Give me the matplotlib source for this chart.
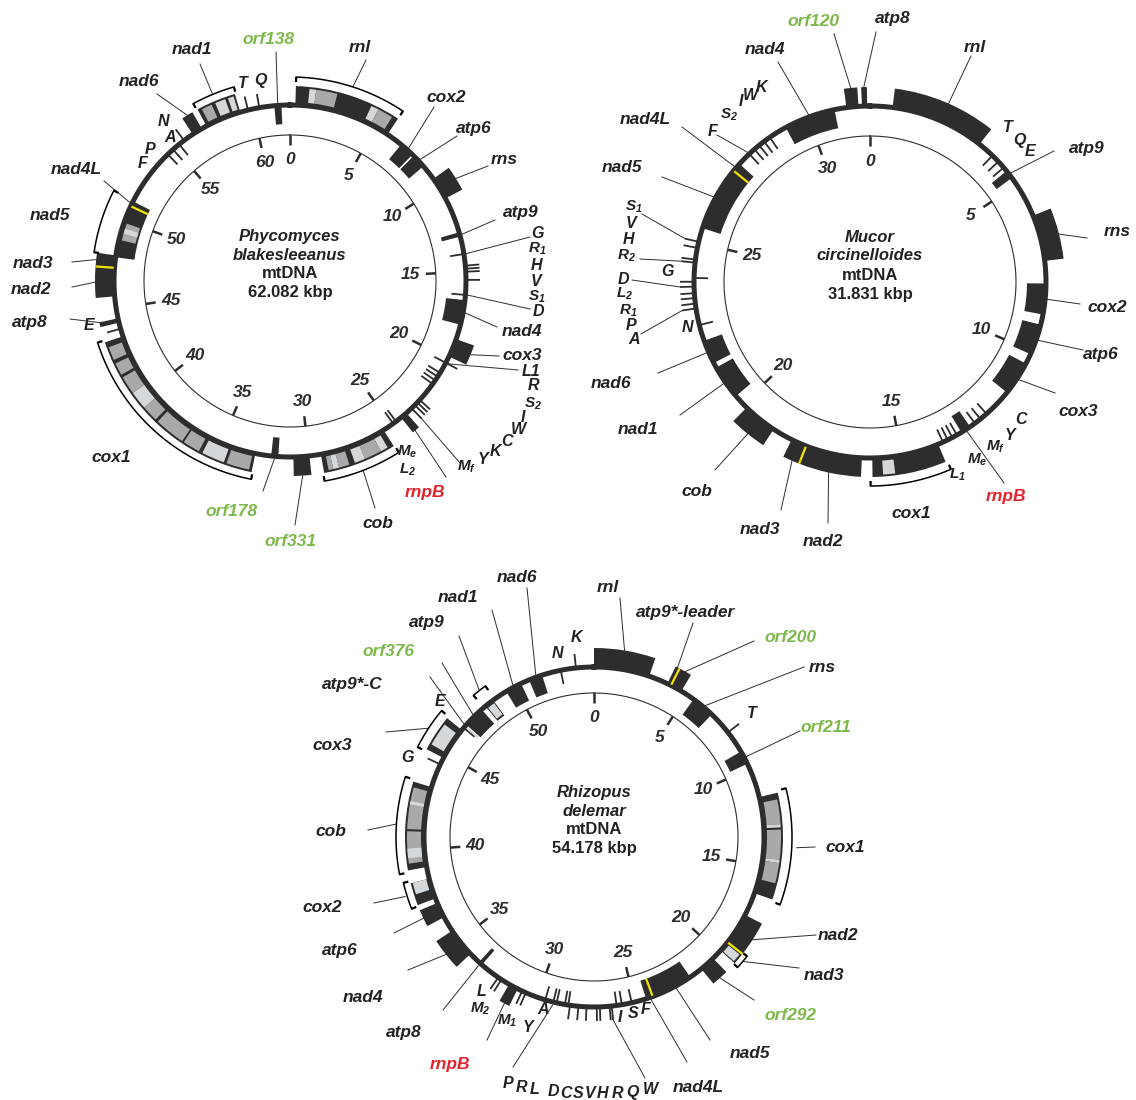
import numpy as np
import matplotlib.pyplot as plt
from matplotlib.patches import Wedge

plt.rcParams['font.family'] = ['Liberation Sans', 'DejaVu Sans']
plt.rcParams['mathtext.fontset'] = 'custom'
plt.rcParams['mathtext.it'] = 'Liberation Sans:italic:bold'
plt.rcParams['mathtext.rm'] = 'Liberation Sans:italic:bold'
plt.rcParams['mathtext.bf'] = 'Liberation Sans:italic:bold'

DARK = '#2d2d2d'
GRAY = '#a7a9ab'
LIGHT = '#d4d8da'
YELLOW = '#f0e400'
GREEN = '#7cb84a'
RED = '#e3232b'
SHADE = {'G': GRAY, 'L': LIGHT}

# ---------------- Phycomyces blakesleeanus ----------------
phy_len = 62.082
phy_genes = [  # name, start, end, side (+1 outside ring, -1 inside)
    ('rnl', 0.3, 5.8, 1), ('cox2', 6.75, 7.6, -1), ('atp6', 7.7, 8.5, -1),
    ('rns', 9.4, 10.7, 1), ('atp9', 12.75, 13.0, -1), ('nad4', 16.6, 18.0, -1),
    ('cox3', 18.85, 19.9, 1), ('rnpB', 23.9, 24.3, 1), ('cob', 25.5, 29.3, 1),
    ('orf331', 29.95, 30.85, 1), ('orf178', 31.7, 32.1, -1), ('cox1', 33.0, 43.4, 1),
    ('atp8', 44.2, 44.45, 1), ('nad2', 45.7, 47.3, 1), ('nad3', 47.3, 48.0, 1),
    ('nad5', 47.9, 50.9, -1), ('nad4L', 50.9, 51.2, -1), ('nad6', 56.3, 56.9, 1),
    ('nad1', 57.2, 59.25, 1), ('orf138', 61.2, 61.6, -1),
]
phy_introns = [  # start, end, shade, side
    (1.0, 1.35, 'L', 1), (1.35, 2.45, 'G', 1), (4.3, 4.7, 'L', 1), (4.7, 5.5, 'G', 1),
    (57.4, 57.95, 'G', 1), (58.15, 58.7, 'L', 1), (58.85, 59.15, 'L', 1),
    (48.9, 49.9, 'G', -1), (49.3, 49.6, 'L', -1),
    (25.8, 26.2, 'L', 1), (26.2, 27.1, 'G', 1), (27.1, 27.65, 'L', 1),
    (27.95, 28.5, 'G', 1), (28.5, 28.8, 'L', 1), (28.8, 29.05, 'G', 1),
    (33.15, 34.35, 'G', 1), (34.5, 35.7, 'L', 1), (35.9, 36.8, 'G', 1),
    (36.9, 38.5, 'G', 1), (38.65, 39.5, 'G', 1), (39.5, 40.45, 'L', 1),
    (40.45, 41.4, 'G', 1), (41.55, 42.2, 'G', 1), (42.4, 43.1, 'G', 1),
]
phy_trnas = [
    ('G', 14.0, -1), ('R1', 14.66, 1), ('H', 14.83, 1), ('V', 15.0, 1), ('S1', 15.46, 1),
    ('D', 16.3, -1), ('L1', 20.3, 0), ('R', 20.95, -1), ('S2', 21.2, -1), ('I', 21.45, -1),
    ('W', 21.7, -1), ('C', 22.85, 1), ('K', 23.05, 1), ('Y', 23.25, 1), ('Mf', 23.5, 1),
    ('Me', 24.65, -1), ('L2', 24.85, -1), ('E', 43.85, 1), ('F', 54.5, -1), ('P', 54.9, -1),
    ('A', 55.35, -1), ('N', 55.7, 1), ('T', 59.7, 1), ('Q', 60.35, 1),
]
phy_yellow = [(47.3, 1), (50.9, -1)]
phy_brackets = [(0.3, 5.8, 28), (57.15, 59.3, 26), (48.0, 51.25, 22),
                (32.95, 43.5, 26), (25.45, 29.35, 27)]
phy_labels = [
    ('nad1', 192, 50), ('orf138', 268, 40, GREEN), ('rnl', 360, 48), ('nad6', 139, 82),
    ('T', 243, 83), ('Q', 260, 80), ('N', 163, 122), ('A', 170, 137), ('P', 150, 150),
    ('F', 143, 164), ('nad4L', 76, 170), ('nad5', 50, 216), ('nad3', 33, 263),
    ('nad2', 31, 289), ('atp8', 30, 323), ('E', 89, 326), ('cox1', 111, 457),
    ('orf178', 231, 512, GREEN), ('orf331', 290, 541, GREEN), ('cob', 378, 524),
    ('rnpB', 425, 493, RED), ('$L_2$', 408, 470), ('$M_e$', 407, 452), ('$M_f$', 467, 467),
    ('Y', 483, 460), ('K', 495, 452), ('C', 507, 442), ('W', 518, 430), ('I', 523, 417),
    ('$S_2$', 533, 404), ('R', 533, 386), ('L1', 531, 371), ('cox3', 522, 355),
    ('nad4', 522, 332), ('D', 538, 312), ('$S_1$', 537, 297), ('V', 536, 281),
    ('H', 536, 265), ('$R_1$', 537, 249), ('G', 537, 233), ('atp9', 521, 213),
    ('rns', 504, 160), ('atp6', 474, 128), ('cox2', 446, 97),
]
phy_leaders = [  # kbp, radial offset from ring, label-side end x, y
    (58.2, 27, 200, 64), (61.4, 3, 276, 52), (3.1, 29, 366, 60), (56.6, 19, 157, 94),
    (51.05, 1, 104, 181), (47.65, 19, 72, 262), (46.5, 19, 72, 287), (44.33, 13, 70, 319),
    (31.9, 2, 263, 491), (30.4, 19, 295, 525), (27.4, 27, 375, 508), (24.1, 10, 446, 477),
    (23.5, 13, 460, 463), (19.35, 19, 499, 356), (20.3, 2, 518, 370), (17.3, 2, 497, 327),
    (16.3, 2, 530, 309), (14.0, 2, 530, 237), (12.9, 2, 495, 220), (10.05, 19, 488, 166),
    (8.1, 2, 457, 136), (7.2, 2, 434, 107),
]
phy_title = ['Phycomyces', 'blakesleeanus', 'mtDNA', '62.082 kbp']

# ---------------- Mucor circinelloides ----------------
muc_len = 31.831
muc_genes = [
    ('rnl', 0.65, 3.4, 1), ('atp9', 4.5, 4.75, -1), ('rns', 6.0, 7.35, 1),
    ('cox2', 8.0, 8.9, -1), ('atp6', 9.2, 10.1, -1), ('cox3', 10.4, 11.4, -1),
    ('rnpB', 12.85, 13.15, -1), ('cox1', 13.9, 15.85, 1), ('nad2', 16.15, 17.8, 1),
    ('nad3', 17.8, 18.25, 1), ('cob', 18.85, 19.85, 1), ('nad1', 20.3, 21.3, -1),
    ('nad6', 21.45, 22.15, -1), ('nad5', 25.45, 27.34, -1), ('nad4L', 27.34, 27.6, -1),
    ('nad4', 29.3, 30.8, -1), ('orf120', 31.15, 31.5, 1), ('atp8', 31.6, 31.75, 1),
]
muc_introns = [(15.25, 15.57, 'L', 1)]
muc_trnas = [
    ('T', 3.9, -1), ('Q', 4.14, -1), ('E', 4.37, -1), ('C', 12.25, -1), ('Y', 12.48, -1),
    ('Mf', 12.68, -1), ('Me', 13.3, -1), ('Me', 13.45, -1), ('L1', 13.6, -1), ('L1', 13.75, -1),
    ('N', 22.62, -1), ('A', 23.11, 1), ('P', 23.25, 1), ('R1', 23.41, 1), ('L2', 23.55, 1),
    ('D', 23.74, 1), ('D', 23.88, 1), ('G', 23.99, -1), ('R2', 24.43, 1), ('H', 24.52, 1),
    ('V', 24.86, 1), ('S1', 25.04, 1), ('F', 28.0, -1), ('S2', 28.2, -1), ('I', 28.38, -1),
    ('W', 28.56, -1), ('K', 28.76, -1),
]
muc_yellow = [(17.8, 1), (27.34, -1)]
muc_brackets = [(13.85, 15.9, 28)]
muc_labels = [
    ('orf120', 813, 22, GREEN), ('atp8', 893, 18), ('nad4', 765, 50), ('rnl', 975, 48),
    ('K', 761, 87), ('W', 750, 95), ('I', 741, 101), ('$S_2$', 729, 115), ('F', 713, 131),
    ('nad4L', 645, 120), ('nad5', 622, 167), ('T', 1008, 128), ('Q', 1019, 140),
    ('E', 1030, 152), ('atp9', 1087, 148), ('rns', 1117, 231), ('$S_1$', 634, 207),
    ('V', 631, 224), ('H', 628, 240), ('$R_2$', 626, 256), ('G', 667, 272), ('D', 623, 279),
    ('$L_2$', 625, 294), ('$R_1$', 628, 311), ('P', 631, 326), ('A', 634, 339),
    ('N', 687, 328), ('nad6', 611, 383), ('nad1', 638, 430), ('cob', 697, 492),
    ('nad3', 760, 530), ('nad2', 823, 542), ('cox1', 911, 513), ('$L_1$', 957, 475),
    ('$M_e$', 977, 460), ('$M_f$', 996, 447), ('Y', 1010, 435), ('C', 1021, 420),
    ('rnpB', 1006, 496, RED), ('cox3', 1078, 412), ('atp6', 1101, 355), ('cox2', 1107, 308),
]
muc_leaders = [
    (31.33, 19, 834, 34), (31.67, 19, 876, 32), (30.05, 2, 778, 62), (2.1, 19, 971, 56),
    (4.62, 2, 1054, 151), (6.7, 19, 1087, 238), (8.45, 2, 1080, 304), (9.65, 2, 1083, 350),
    (10.9, 2, 1055, 393), (13.0, 0, 1004, 483), (17.0, 19, 828, 523), (18.0, 19, 781, 510),
    (19.35, 19, 715, 470), (20.8, 2, 680, 415), (21.8, 2, 658, 373), (23.11, 14, 641, 334),
    (23.74, 14, 632, 280), (24.43, 14, 640, 259), (25.04, 14, 642, 214), (26.4, 2, 662, 177),
    (27.45, 2, 682, 127), (28.0, 2, 717, 135),
]
muc_title = ['Mucor', 'circinelloides', 'mtDNA', '31.831 kbp']

# ---------------- Rhizopus delemar ----------------
rhi_len = 54.178
rhi_genes = [
    ('rnl', 0.0, 2.85, 1), ('atp9*-leader', 3.85, 4.05, 1), ('orf200', 4.05, 4.65, 1),
    ('rns', 5.4, 6.6, -1), ('orf211', 9.0, 9.7, -1), ('cox1', 11.5, 16.45, 1),
    ('nad2', 17.65, 19.3, 1), ('nad3', 19.3, 19.85, 1), ('orf292', 20.4, 21.2, 1),
    ('nad5', 21.9, 24.05, -1), ('nad4L', 24.05, 24.4, -1), ('rnpB', 31.1, 31.6, 1),
    ('atp8', 33.3, 33.5, -1), ('nad4', 34.1, 35.6, 1), ('atp6', 36.4, 37.2, 1),
    ('cox2', 37.45, 38.5, 1), ('cob', 39.1, 43.2, 1), ('cox3', 44.8, 46.5, 1),
    ('orf376', 46.85, 47.95, -1), ('atp9', 48.2, 48.7, -1), ('nad1', 49.5, 50.35, -1),
    ('nad6', 50.8, 51.5, -1),
]
rhi_introns = [
    (11.8, 12.95, 'G', 1), (12.95, 13.1, 'L', 1), (13.2, 14.6, 'G', 1), (14.6, 14.75, 'L', 1),
    (14.75, 15.7, 'G', 1), (19.4, 19.8, 'L', 1), (39.4, 40.9, 'G', 1), (39.65, 40.1, 'L', 1),
    (41.0, 42.95, 'G', 1), (42.15, 42.3, 'L', 1), (37.95, 38.5, 'L', 1), (45.1, 46.2, 'L', 1),
    (48.25, 48.65, 'L', -1), (46.7, 46.8, 'L', -1),
]
rhi_trnas = [
    ('T', 7.83, 1), ('F', 25.16, -1), ('S', 25.67, -1), ('I', 25.94, -1), ('W', 26.19, 1),
    ('Q', 26.3, 1), ('R', 26.79, 1), ('H', 26.95, 1), ('V', 27.47, 1), ('S', 27.88, 1),
    ('C', 28.31, 1), ('D', 28.4, -1), ('L', 28.57, -1), ('R', 29.0, -1), ('P', 29.17, -1),
    ('A', 29.6, -1), ('Y', 30.65, 1), ('M1', 30.85, 1), ('M2', 32.05, 1), ('L', 32.25, 1),
    ('G', 44.44, 1), ('E', 46.65, -1), ('N', 52.48, -1), ('K', 53.26, 1),
]
rhi_yellow = [(4.05, 1), (19.3, 1), (24.05, -1)]
rhi_brackets = [(48.1, 48.8, 16), (44.7, 46.6, 28), (39.0, 43.3, 28), (37.4, 38.6, 26),
                (11.4, 16.55, 28), (19.25, 19.9, 24)]
rhi_labels = [
    ('nad6', 517, 578), ('rnl', 608, 588), ('nad1', 458, 597), ('atp9*-leader', 686, 612),
    ('atp9', 427, 623), ('K', 576, 637), ('orf200', 790, 637, GREEN),
    ('orf376', 388, 652, GREEN), ('N', 557, 653), ('rns', 822, 668), ('atp9*-C', 352, 684),
    ('E', 440, 702), ('T', 752, 714), ('orf211', 826, 728, GREEN), ('cox3', 332, 745),
    ('G', 407, 757), ('cob', 331, 832), ('cox1', 845, 848), ('cox2', 322, 908),
    ('nad2', 838, 935), ('atp6', 340, 950), ('nad3', 824, 976), ('nad4', 363, 998),
    ('atp8', 404, 1033), ('orf292', 790, 1015, GREEN), ('nad5', 750, 1053),
    ('rnpB', 450, 1065, RED), ('L', 482, 992), ('$M_2$', 480, 1009), ('$M_1$', 507, 1021),
    ('Y', 528, 1027), ('A', 543, 1009), ('I', 620, 1017), ('S', 633, 1013), ('F', 646, 1010),
    ('nad4L', 698, 1087), ('P', 508, 1083), ('R', 521, 1087), ('L', 535, 1090),
    ('D', 553, 1092), ('C', 566, 1093), ('S', 578, 1093), ('V', 590, 1093), ('H', 602, 1093),
    ('R', 617, 1093), ('Q', 632, 1092), ('W', 650, 1090),
]
rhi_leaders = [
    (51.15, -2, 527, 588), (1.4, 19, 620, 598), (49.9, -2, 492, 610), (48.45, 16, 459, 636),
    (47.4, -2, 442, 663), (46.75, -2, 430, 677), (3.95, 19, 693, 623), (4.35, 19, 754, 641),
    (6.0, 0, 804, 667), (9.35, 0, 800, 731), (14.0, 33, 815, 847), (18.5, 19, 816, 935),
    (19.55, 24, 799, 968), (20.8, 19, 754, 1000), (22.8, 0, 710, 1040), (24.2, 0, 687, 1062),
    (26.19, 14, 645, 1078), (29.17, 3, 513, 1067), (31.35, 19, 487, 1040),
    (33.4, 3, 443, 1010), (34.85, 19, 408, 970), (36.8, 19, 394, 933), (38.0, 28, 374, 903),
    (41.2, 28, 368, 830), (45.65, 28, 386, 732),
]
rhi_title = ['Rhizopus', 'delemar', 'mtDNA', '54.178 kbp']

BH = 19  # block height in px


def polar(cx, cy, L, pos, r):
    a = np.deg2rad(np.asarray(pos) / L * 360.0)
    return cx + r * np.sin(a), cy - r * np.cos(a)


def wedge(ax, cx, cy, L, s, e, r0, r1, color, z):
    ax.add_patch(Wedge((cx, cy), r1, s / L * 360 - 90, e / L * 360 - 90,
                       width=r1 - r0, facecolor=color, edgecolor='none', zorder=z))


def draw_map(ax, cx, cy, R, rt, L, genes, introns, trnas, yellow, brackets,
             labels, leaders, title):
    t = np.linspace(0, 2 * np.pi, 500)
    ax.plot(cx + rt * np.sin(t), cy - rt * np.cos(t), color=DARK, lw=0.8, zorder=2)
    ax.plot(cx + R * np.sin(t), cy - R * np.cos(t), color=DARK, lw=3.6, zorder=3)

    # kbp scale
    for k in range(0, int(L) + 1, 5):
        x, y = polar(cx, cy, L, [k, k], [rt - 10, rt])
        ax.plot(x, y, color=DARK, lw=1.8, solid_capstyle='butt', zorder=2)
        tx, ty = polar(cx, cy, L, k, rt - 25)
        ax.text(tx, ty, str(k), ha='center', va='center', fontsize=12.5,
                fontweight='bold', fontstyle='italic', color=DARK)

    for name, s, e, side in genes:
        r0, r1 = (R, R + BH) if side > 0 else (R - BH, R)
        wedge(ax, cx, cy, L, s, e, r0, r1, DARK, 4)
    for s, e, shade, side in introns:
        r0, r1 = (R + 3, R + BH - 2) if side > 0 else (R - BH + 2, R - 3)
        wedge(ax, cx, cy, L, s, e, r0, r1, SHADE[shade], 5)
    for pos, side in yellow:
        rr = [R + 2, R + BH - 1] if side > 0 else [R - BH + 1, R - 2]
        x, y = polar(cx, cy, L, [pos, pos], rr)
        ax.plot(x, y, color=YELLOW, lw=1.6, zorder=6)

    for name, pos, side in trnas:
        if side > 0:
            rr = [R, R + 14]
        elif side < 0:
            rr = [R - 14, R]
        else:
            rr = [R - 13, R + 13]
        x, y = polar(cx, cy, L, [pos, pos], rr)
        ax.plot(x, y, color=DARK, lw=1.3, solid_capstyle='butt', zorder=4)

    for s, e, off in brackets:
        a = np.linspace(s, e, 80)
        x, y = polar(cx, cy, L, a, R + off)
        ax.plot(x, y, color='black', lw=1.1, zorder=4)
        for p in (s, e):
            x, y = polar(cx, cy, L, [p, p], [R + off, R + off - 5])
            ax.plot(x, y, color='black', lw=1.6, solid_capstyle='butt', zorder=4)

    for pos, off, x1, y1 in leaders:
        x0, y0 = polar(cx, cy, L, pos, R + off)
        ax.plot([x0, x1], [y0, y1], color=DARK, lw=0.7, zorder=3)

    for lab in labels:
        txt, x, y = lab[:3]
        col = lab[3] if len(lab) > 3 else '#222222'
        if txt.startswith('$'):
            fs = 11
        elif len(txt) <= 2:
            fs = 11.5
        else:
            fs = 12.5
        ax.text(x, y, txt, ha='center', va='center', fontsize=fs,
                fontweight='bold', fontstyle='italic', color=col, zorder=7)

    styles = ['italic', 'italic', 'normal', 'normal']
    for i, line in enumerate(title):
        ax.text(cx, cy - 45 + i * 19, line, ha='center', va='center', fontsize=12,
                fontweight='bold', fontstyle=styles[i], color='#222222')


fig = plt.figure(figsize=(11.36, 11.0), dpi=100)
ax = fig.add_axes([0, 0, 1, 1])
ax.set_xlim(0, 1136)
ax.set_ylim(1100, 0)
ax.axis('off')

draw_map(ax, 290, 281, 176, 146, phy_len, phy_genes, phy_introns, phy_trnas, phy_yellow,
         phy_brackets, phy_labels, phy_leaders, phy_title)
draw_map(ax, 870, 282, 176, 146, muc_len, muc_genes, muc_introns, muc_trnas, muc_yellow,
         muc_brackets, muc_labels, muc_leaders, muc_title)
draw_map(ax, 594, 837, 170, 144, rhi_len, rhi_genes, rhi_introns, rhi_trnas, rhi_yellow,
         rhi_brackets, rhi_labels, rhi_leaders, rhi_title)

fig.savefig('out.png', dpi=100)
